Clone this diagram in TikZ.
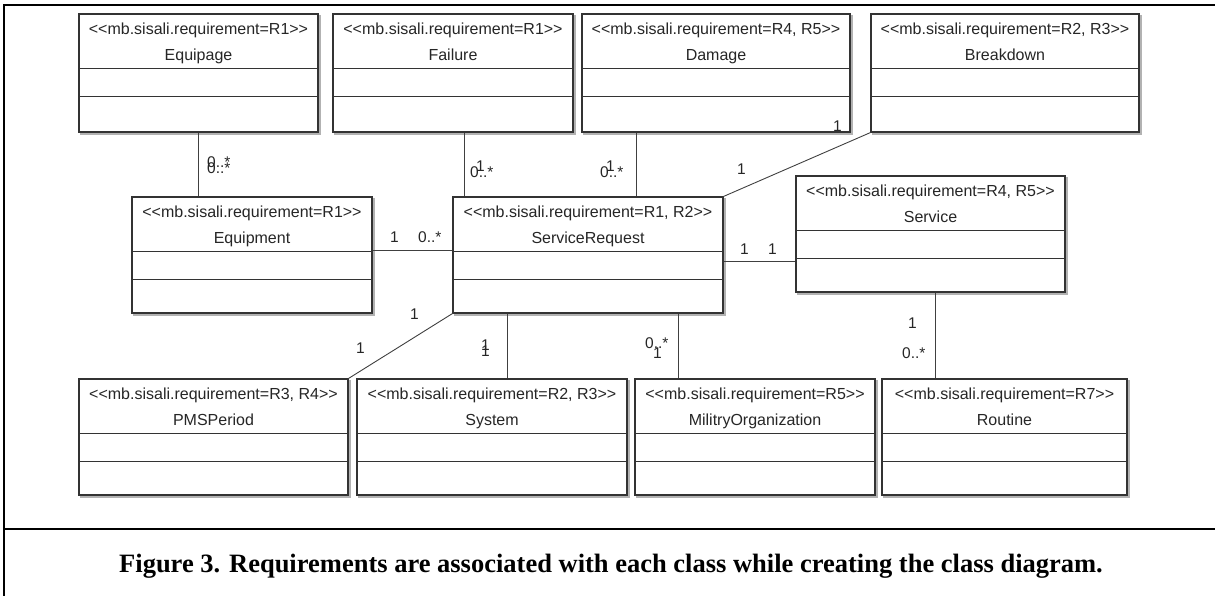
\documentclass[tikz,border=0pt]{standalone}
\usepackage{fontspec}
\setmainfont{Liberation Serif}
\newfontfamily\umlfont{Liberation Sans}
\usetikzlibrary{calc,fit}
\pgfdeclarelayer{bg}
\pgfsetlayers{bg,main}
\tikzset{
  cls/.style={draw=black!80, line width=1.1pt, fill=white, inner sep=0pt},
  divider/.style={draw=black!80, line width=1.1pt},
  assoc/.style={draw=black!75, line width=0.9pt},
  frameline/.style={draw=black, line width=2.6pt},
  umltext/.style={font=\umlfont\fontsize{16}{18}\selectfont, text=black!85, inner sep=0pt, anchor=base},
  mult/.style={font=\umlfont\fontsize{15.5}{18}\selectfont, text=black!85, inner sep=0pt, anchor=base west},
  shadowfill/.style={fill=black!30},
  captiontext/.style={font=\fontsize{26.5}{30}\selectfont\bfseries, inner sep=0pt, anchor=base},
}
\newcommand\stl{<\kern0pt<}
\newcommand\stg{>\kern0pt>}
\newcommand\umlbox[7]{%
  \node[cls, fit={(#2,#3) (#4,#5)}] (#1) {};
  \begin{pgfonlayer}{bg}
    \fill[shadowfill] ($(#1.north east)+(0,2)$) rectangle ($(#1.south east)+(2.2,2.2)$);
    \fill[shadowfill] ($(#1.south west)+(2,0)$) rectangle ($(#1.south east)+(2.2,2.2)$);
  \end{pgfonlayer}
  \draw[divider] ($(#1.north west)+(0,55)$) -- ($(#1.north east)+(0,55)$);
  \draw[divider] ($(#1.north west)+(0,83)$) -- ($(#1.north east)+(0,83)$);
  \node[umltext] (#1st) at ($(#1.north)+(0,21.5)$) {\stl mb.sisali.requirement=#6\stg};
  \node[umltext] (#1nm) at ($(#1.north)+(0,47)$) {#7};
}
\begin{document}
\begin{tikzpicture}[x=1pt, y=-1pt]
\useasboundingbox (0,0) rectangle (1215,596);
% frame
\draw[frameline] (4,596) -- (4,5) -- (1215,5);
\draw[frameline] (4,529) -- (1215,529);
% classes
\umlbox{equipage}{79}{14}{318}{132}{R1}{Equipage}
\umlbox{failure}{333}{14}{573}{132}{R1}{Failure}
\umlbox{damage}{582}{14}{850}{132}{R4, R5}{Damage}
\umlbox{breakdown}{871}{14}{1139}{132}{R2, R3}{Breakdown}
\umlbox{equipment}{132}{197}{372}{313}{R1}{Equipment}
\umlbox{sreq}{453}{197}{723}{313}{R1, R2}{ServiceRequest}
\umlbox{service}{796}{176}{1065}{292}{R4, R5}{Service}
\umlbox{pms}{79}{379}{348}{495}{R3, R4}{PMSPeriod}
\umlbox{system}{357}{379}{627}{495}{R2, R3}{System}
\umlbox{milit}{635}{379}{875}{495}{R5}{MilitryOrganization}
\umlbox{routine}{882}{379}{1127}{495}{R7}{Routine}
% associations
\draw[assoc] (equipage.south) -- (equipage.south |- equipment.north);
\draw[assoc] ($(failure.south)+(11,0)$) coordinate (fa) -- (fa |- sreq.north);
\draw[assoc] ($(damage.south)+(-80,0)$) coordinate (da) -- (da |- sreq.north);
\draw[assoc] (breakdown.south west) -- (sreq.north east);
\draw[assoc] ($(equipment.east)+(0,-5)$) coordinate (eq) -- (eq -| sreq.west);
\draw[assoc] ($(sreq.east)+(0,6)$) coordinate (ss) -- (ss -| service.west);
\draw[assoc] (sreq.south west) -- (pms.north east);
\draw[assoc] ($(system.north)+(15,0)$) coordinate (sy) -- (sy |- sreq.south);
\draw[assoc] ($(milit.north)+(-77,0)$) coordinate (mi) -- (mi |- sreq.south);
\draw[assoc] ($(service.south)+(4.5,0)$) coordinate (se) -- (se |- routine.north);
% multiplicities
\node[mult] (m1) at (207,168) {0..*};
\node[mult] (m2) at (207,174) {0..*};
\node[mult] (m3) at (470,178) {0..*};
\node[mult] (m4) at (476,172) {1};
\node[mult] (m5) at (600,178) {0..*};
\node[mult] (m6) at (606,172) {1};
\node[mult] (m7) at (833,132) {1};
\node[mult] (m8) at (737,175) {1};
\node[mult] (m9) at (390,243) {1};
\node[mult] (m10) at (418,243) {0..*};
\node[mult] (m11) at (740,254) {1};
\node[mult] (m12) at (768,254) {1};
\node[mult] (m13) at (410,319) {1};
\node[mult] (m14) at (356,353) {1};
\node[mult] (m15) at (481,350) {1};
\node[mult] (m16) at (481,356) {1};
\node[mult] (m17) at (645,348) {0..*};
\node[mult] (m18) at (653,358) {1};
\node[mult] (m19) at (908,328) {1};
\node[mult] (m20) at (902,358) {0..*};
% caption
\node[captiontext] (caption) at (611,572) {Figure 3. Requirements are associated with each class while creating the class diagram.};
\end{tikzpicture}
\end{document}
